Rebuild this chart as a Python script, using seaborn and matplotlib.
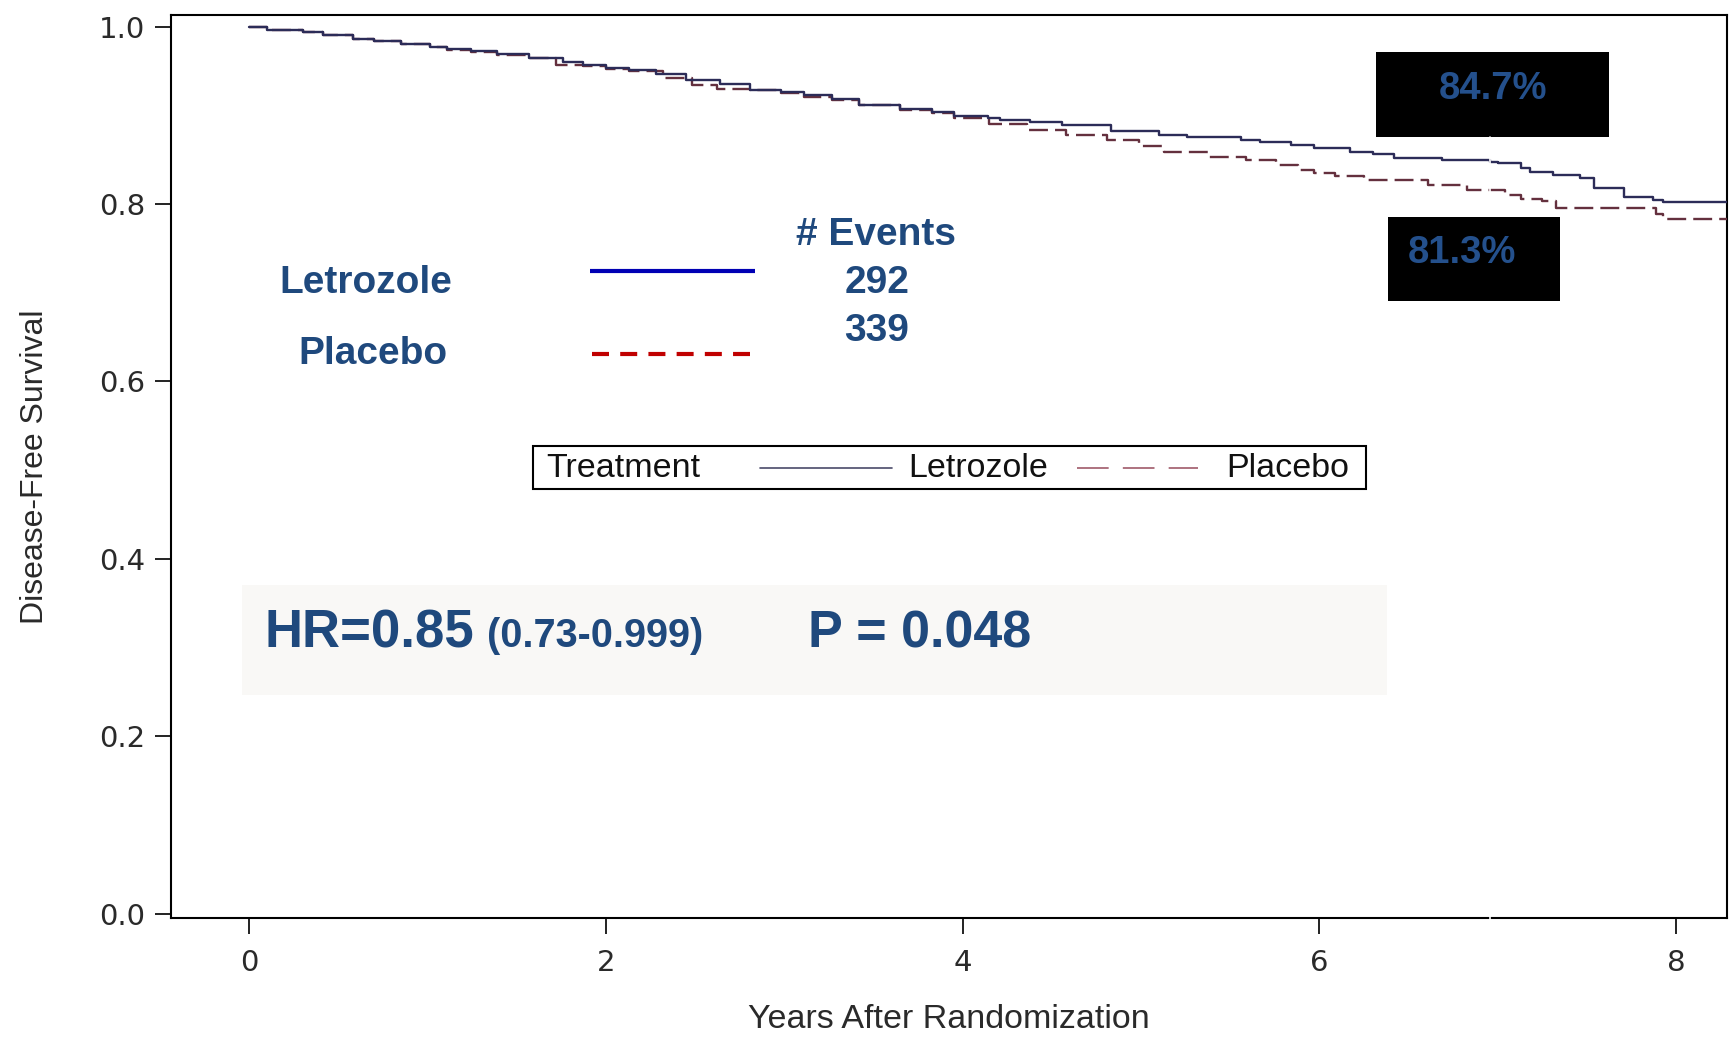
import numpy as np
import pandas as pd
import matplotlib
matplotlib.use("Agg")
import matplotlib.pyplot as plt
import seaborn as sns
from matplotlib.patches import Rectangle
from matplotlib.lines import Line2D

# ---------------- data ----------------
letrozole_years = [0.00, 0.10, 0.30, 0.41, 0.58, 0.70, 0.85, 1.01, 1.11, 1.24, 1.39, 1.57,
                   1.76, 1.87, 2.00, 2.13, 2.28, 2.45, 2.64, 2.81, 2.98, 3.11, 3.27, 3.42,
                   3.65, 3.83, 3.95, 4.14, 4.21, 4.38, 4.56, 4.83, 5.10, 5.26, 5.56, 5.67,
                   5.84, 5.97, 6.17, 6.30, 6.42, 6.69, 6.96, 7.00, 7.13, 7.18, 7.31, 7.46,
                   7.54, 7.71, 7.87, 7.93, 8.29]
letrozole_dfs = [1.000, 0.996, 0.994, 0.990, 0.986, 0.984, 0.980, 0.977, 0.975, 0.972, 0.969, 0.965,
                 0.960, 0.957, 0.953, 0.951, 0.946, 0.940, 0.935, 0.929, 0.926, 0.923, 0.918, 0.912,
                 0.907, 0.904, 0.899, 0.897, 0.895, 0.892, 0.889, 0.882, 0.878, 0.875, 0.872, 0.870,
                 0.866, 0.863, 0.858, 0.856, 0.852, 0.850, 0.847, 0.846, 0.840, 0.836, 0.833, 0.829,
                 0.818, 0.808, 0.805, 0.802, 0.802]

placebo_years = [0.00, 0.10, 0.30, 0.41, 0.58, 0.70, 0.85, 1.01, 1.11, 1.24, 1.39, 1.57,
                 1.72, 1.87, 2.00, 2.13, 2.32, 2.48, 2.62, 2.81, 2.98, 3.11, 3.27, 3.42,
                 3.65, 3.83, 3.95, 4.15, 4.36, 4.58, 4.81, 4.99, 5.13, 5.38, 5.59, 5.76,
                 5.88, 5.97, 6.09, 6.25, 6.61, 6.83, 7.04, 7.13, 7.25, 7.33, 7.89, 7.93, 8.29]
placebo_dfs = [1.000, 0.996, 0.994, 0.990, 0.986, 0.984, 0.980, 0.977, 0.974, 0.971, 0.968, 0.964,
               0.957, 0.955, 0.952, 0.950, 0.942, 0.934, 0.930, 0.928, 0.925, 0.921, 0.917, 0.912,
               0.906, 0.902, 0.897, 0.890, 0.883, 0.878, 0.872, 0.865, 0.859, 0.853, 0.850, 0.844,
               0.838, 0.835, 0.831, 0.827, 0.821, 0.816, 0.810, 0.806, 0.803, 0.795, 0.789, 0.783, 0.783]

groups = ["Letrozole", "Placebo"]
events = ["292", "339"]
rate_labels = ["84.7%", "81.3%"]
hr_text = "HR=0.85"
ci_text = "(0.73-0.999)"
p_text = "P = 0.048"
x_ticks = [0, 2, 4, 6, 8]
y_ticks = [0.0, 0.2, 0.4, 0.6, 0.8, 1.0]
x_label = "Years After Randomization"
y_label = "Disease-Free Survival"
legend_title = "Treatment"

# ---------------- style ----------------
sns.set_theme(style="ticks")
plt.rcParams["font.family"] = ["Liberation Sans", "DejaVu Sans"]

W, H = 1730, 1038
fig = plt.figure(figsize=(W / 100, H / 100), dpi=100)
fig.patch.set_facecolor("white")

def fx(x):
    return x / W

def fy(y):
    return 1 - y / H

ax = fig.add_axes([fx(171), fy(918), (1727 - 171) / W, (918 - 15) / H])
ax.set_facecolor("white")

col_let = "#2c2c58"
col_pla = "#64303e"
text_blue = "#1f497d"

# light HR background panel (behind curves)
ax.add_patch(Rectangle((fx(242), fy(695)), (1387 - 242) / W, (695 - 585) / H,
                       transform=fig.transFigure, facecolor="#f9f8f6", edgecolor="none", zorder=0))

df_let = pd.DataFrame({"years": letrozole_years, "dfs": letrozole_dfs})
df_pla = pd.DataFrame({"years": placebo_years, "dfs": placebo_dfs})

sns.lineplot(data=df_pla, x="years", y="dfs", drawstyle="steps-post", estimator=None,
             sort=False, color=col_pla, linewidth=1.7, linestyle=(0, (8, 3)), ax=ax, zorder=3)
sns.lineplot(data=df_let, x="years", y="dfs", drawstyle="steps-post", estimator=None,
             sort=False, color=col_let, linewidth=1.7, ax=ax, zorder=4)

ax.set_xlim(-0.44, 8.287)
ax.set_ylim(-0.005, 1.013)
ax.set_xticks(x_ticks)
ax.set_yticks(y_ticks)
ax.set_yticklabels([f"{v:.1f}" for v in y_ticks])
for s in ax.spines.values():
    s.set_visible(True)
    s.set_color("black")
    s.set_linewidth(1.5)
ax.tick_params(axis="both", direction="out", length=11.5, width=1.4, color="#222222",
               labelcolor="#2a2a2a")
ax.tick_params(axis="x", pad=11)
ax.tick_params(axis="y", pad=7)
for lab in ax.get_xticklabels() + ax.get_yticklabels():
    lab.set_family(["DejaVu Sans"])
    lab.set_fontsize(21)

ax.set_xlabel(x_label, fontsize=24.5, color="#2a2a2a")
ax.set_ylabel(y_label, fontsize=23, color="#2a2a2a")
ax.xaxis.set_label_coords(0.5, -0.095)
ax.yaxis.set_label_coords(-0.078, 0.5)

# ---------------- annotations ----------------
bold = dict(fontweight="bold", color=text_blue)
fig.text(fx(366), fy(293), groups[0], ha="center", va="baseline", fontsize=28, **bold)
fig.text(fx(373), fy(364.5), groups[1], ha="center", va="baseline", fontsize=28, **bold)
fig.text(fx(876.5), fy(245.3), "# Events", ha="center", va="baseline", fontsize=28, **bold)
fig.text(fx(877), fy(293), events[0], ha="center", va="baseline", fontsize=28, **bold)
fig.text(fx(877), fy(341.2), events[1], ha="center", va="baseline", fontsize=28, **bold)

fig.add_artist(Line2D([fx(590), fx(755)], [fy(271), fy(271)], color="#0000b4", lw=3.0,
                      solid_capstyle="butt"))
fig.add_artist(Line2D([fx(592), fx(750)], [fy(354), fy(354)], color="#c00000", lw=3.0,
                      linestyle=(0, (4.08, 2.69)), dash_capstyle="butt"))

# HR / P text
fig.text(fx(265), fy(647), hr_text, ha="left", va="baseline", fontsize=38, **bold)
fig.text(fx(487), fy(647), ci_text, ha="left", va="baseline", fontsize=28.5, **bold)
fig.text(fx(808), fy(647), p_text, ha="left", va="baseline", fontsize=37.5, **bold)

# black boxes with rates
fig.add_artist(Rectangle((fx(1376), fy(137)), (1609 - 1376) / W, (137 - 52) / H,
                         transform=fig.transFigure, facecolor="black", edgecolor="none", zorder=5))
fig.add_artist(Rectangle((fx(1388), fy(301)), (1560 - 1388) / W, (301 - 217) / H,
                         transform=fig.transFigure, facecolor="black", edgecolor="none", zorder=5))
fig.text(fx(1493.5), fy(99), rate_labels[0], ha="center", va="baseline", fontsize=27.5,
         fontweight="bold", color="#24508c", zorder=6)
fig.text(fx(1408), fy(263.3), rate_labels[1], ha="left", va="baseline", fontsize=27.5,
         fontweight="bold", color="#24508c", zorder=6)

# white artifact line
fig.add_artist(Line2D([fx(1490), fx(1490)], [fy(137), fy(210)], color="white", lw=1.2, zorder=5))
fig.add_artist(Line2D([fx(1490), fx(1490)], [fy(914), fy(922)], color="white", lw=1.2, zorder=5))

# Treatment legend box
fig.add_artist(Rectangle((fx(533), fy(489)), (1365.5 - 533) / W, (489 - 446) / H,
                         transform=fig.transFigure, facecolor="white", edgecolor="black",
                         lw=1.5, zorder=5))
fig.text(fx(546), fy(477.3), legend_title, ha="left", va="baseline", fontsize=24.5,
         color="#111111", zorder=6)
fig.add_artist(Line2D([fx(759.5), fx(892)], [fy(468.3), fy(468.3)], color="#4a4a6a", lw=1.2,
                      zorder=6))
fig.text(fx(908.7), fy(477.3), groups[0], ha="left", va="baseline", fontsize=24.5,
         color="#111111", zorder=6)
fig.add_artist(Line2D([fx(1077), fx(1197.5)], [fy(468.3), fy(468.3)], color="#a05a6a", lw=1.2,
                      linestyle=(0, (19, 8.5)), zorder=6))
fig.text(fx(1226), fy(477.3), groups[1], ha="left", va="baseline", fontsize=24.5,
         color="#111111", zorder=6)

fig.savefig("out.png", dpi=100, facecolor="white")
